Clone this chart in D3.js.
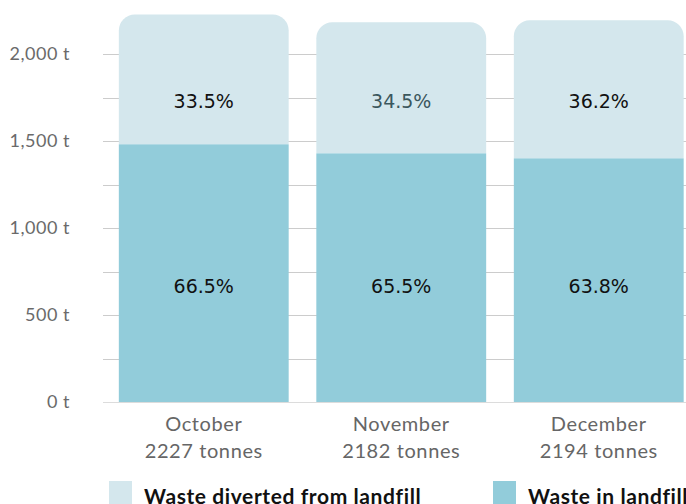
<!DOCTYPE html>
<html>
<head>
<meta charset="utf-8">
<script src="https://cdn.jsdelivr.net/npm/d3@7"></script>
<style>
  body { margin: 0; background: #fff; }
  svg { display: block; }
</style>
</head>
<body>
<div id="chart"></div>
<script>
// data
var months = ["October", "November", "December"];
var totals = [2227, 2182, 2194];
var landfill = [1481, 1429, 1400];
var diverted = [746, 753, 794];
var landfillPct = ["66.5%", "65.5%", "63.8%"];
var divertedPct = ["33.5%", "34.5%", "36.2%"];
var yTicks = [0, 500, 1000, 1500, 2000];
var gridTicks = [0, 250, 500, 750, 1000, 1250, 1500, 1750, 2000];

var svgWidth = 686;
var svgHeight = 504;

var colorLight = "#d4e7ed";
var colorDark = "#92ccda";

var svg = d3.select("#chart")
    .append("svg")
    .attr("width", svgWidth)
    .attr("height", svgHeight);

var x = d3.scaleBand()
    .domain(months)
    .range([105, 697.5])
    .paddingInner(0.14)
    .paddingOuter(0.07);

var y = d3.scaleLinear()
    .domain([0, 2000])
    .range([402, 54]);

// grid lines
svg.append("g")
    .selectAll("line")
    .data(gridTicks)
    .enter()
    .append("line")
    .attr("x1", 103)
    .attr("x2", svgWidth)
    .attr("y1", d => Math.round(y(d)) + 0.5)
    .attr("y2", d => Math.round(y(d)) + 0.5)
    .attr("stroke", d => d === 0 ? "#dcdcdc" : "#cccccc")
    .attr("stroke-width", 1);

// y tick labels
svg.append("g")
    .selectAll("text")
    .data(yTicks)
    .enter()
    .append("text")
    .attr("x", 70)
    .attr("y", d => y(d))
    .attr("dy", "0.35em")
    .attr("text-anchor", "end")
    .style("font-family", "Lato")
    .style("font-size", "18px")
    .style("letter-spacing", "0.5px")
    .style("fill", "#6a6a6a")
    .text(d => d3.format(",")(d) + " t");

var rows = months.map(function (m, i) {
    return { month: m, total: totals[i], landfill: landfill[i], diverted: diverted[i],
             lp: landfillPct[i], dp: divertedPct[i] };
});

var r = 16;

// diverted segment (top, rounded top corners)
svg.append("g")
    .selectAll("path")
    .data(rows)
    .enter()
    .append("path")
    .attr("fill", colorLight)
    .attr("d", function (d) {
        var x0 = x(d.month), w = x.bandwidth();
        var yt = y(d.landfill + d.diverted), yb = y(d.landfill);
        return "M" + x0 + "," + yb +
            "V" + (yt + r) +
            "A" + r + "," + r + " 0 0 1 " + (x0 + r) + "," + yt +
            "H" + (x0 + w - r) +
            "A" + r + "," + r + " 0 0 1 " + (x0 + w) + "," + (yt + r) +
            "V" + yb + "Z";
    });

// landfill segment
svg.append("g")
    .selectAll("rect")
    .data(rows)
    .enter()
    .append("rect")
    .attr("x", d => x(d.month))
    .attr("width", x.bandwidth())
    .attr("y", d => y(d.landfill))
    .attr("height", d => y(0) - y(d.landfill))
    .attr("fill", colorDark);

// percentage labels
svg.append("g")
    .selectAll("text")
    .data(rows)
    .enter()
    .append("text")
    .attr("x", d => x(d.month) + x.bandwidth() / 2)
    .attr("y", y(1730))
    .attr("dy", "0.35em")
    .attr("text-anchor", "middle")
    .style("font-family", "DejaVu Sans")
    .style("font-size", "19px")
    .style("fill", (d, i) => i === 1 ? "#3b575d" : "#111")
    .text(d => d.dp);

svg.append("g")
    .selectAll("text")
    .data(rows)
    .enter()
    .append("text")
    .attr("x", d => x(d.month) + x.bandwidth() / 2)
    .attr("y", y(667))
    .attr("dy", "0.35em")
    .attr("text-anchor", "middle")
    .style("font-family", "DejaVu Sans")
    .style("font-size", "19px")
    .style("fill", "#111")
    .text(d => d.lp);

// x labels
var xl = svg.append("g")
    .selectAll("text")
    .data(rows)
    .enter()
    .append("text")
    .attr("text-anchor", "middle")
    .style("font-family", "Lato")
    .style("font-size", "20px")
    .style("letter-spacing", "0.6px")
    .style("fill", "#666");

xl.append("tspan")
    .attr("x", d => x(d.month) + x.bandwidth() / 2)
    .attr("y", 431)
    .text(d => d.month);

xl.append("tspan")
    .attr("x", d => x(d.month) + x.bandwidth() / 2)
    .attr("y", 458)
    .text(d => d.total + " tonnes");

// legend
var legendItems = [
    { label: "Waste diverted from landfill", color: colorLight, x: 109 },
    { label: "Waste in landfill", color: colorDark, x: 493 }
];

var legend = svg.append("g")
    .selectAll("g")
    .data(legendItems)
    .enter()
    .append("g")
    .attr("transform", d => `translate(${d.x}, 481)`);

legend.append("rect")
    .attr("width", 23)
    .attr("height", 23)
    .attr("fill", d => d.color);

legend.append("text")
    .attr("x", 35)
    .attr("y", 23)
    .style("font-family", "Lato")
    .style("font-size", "21px")
    .style("font-weight", "bold")
    .style("letter-spacing", "0.6px")
    .style("fill", "#111")
    .text(d => d.label);
</script>
</body>
</html>
